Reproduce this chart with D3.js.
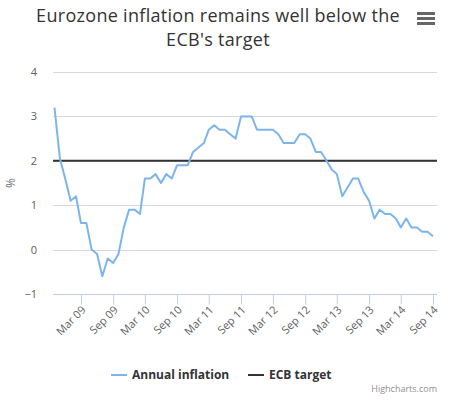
<!DOCTYPE html>
<html>
<head>
<meta charset="utf-8">
<script src="https://cdn.jsdelivr.net/npm/d3@7"></script>
<style>
  body { margin: 0; background: #fff; }
  text { font-family: "Open Sans", "DejaVu Sans", sans-serif; }
</style>
</head>
<body>
<svg id="chart" width="462" height="411"></svg>
<script>
// monthly HICP annual inflation, first value is Oct 2008
const startMonth = "Oct 2008";
const inflation = [3.2, 2.05, 1.6, 1.1, 1.2, 0.6, 0.6, 0.0, -0.1, -0.6, -0.2, -0.3,
  -0.1, 0.5, 0.9, 0.9, 0.8, 1.6, 1.6, 1.7, 1.5, 1.7, 1.6, 1.9,
  1.9, 1.9, 2.2, 2.3, 2.4, 2.7, 2.8, 2.7, 2.7, 2.6, 2.5, 3.0,
  3.0, 3.0, 2.7, 2.7, 2.7, 2.7, 2.6, 2.4, 2.4, 2.4, 2.6, 2.6,
  2.5, 2.2, 2.2, 2.0, 1.8, 1.7, 1.2, 1.4, 1.6, 1.6, 1.3, 1.1,
  0.7, 0.9, 0.8, 0.8, 0.7, 0.5, 0.7, 0.5, 0.5, 0.4, 0.4, 0.3];
const ecbTarget = 2;
const xTickLabels = ["Mar 09", "Sep 09", "Mar 10", "Sep 10", "Mar 11", "Sep 11",
  "Mar 12", "Sep 12", "Mar 13", "Sep 13", "Mar 14", "Sep 14"];
const yTicks = [-1, 0, 1, 2, 3, 4];
const seriesNames = ["Annual inflation", "ECB target"];
const colors = ["#7cb5ec", "#333333"];

const svg = d3.select("#chart");
const plotLeft = 53, plotRight = 437, plotTop = 72, plotBottom = 294;

const start = d3.timeParse("%b %Y")(startMonth);
const points = inflation.map((v, i) => ({ date: d3.timeMonth.offset(start, i), value: v }));
const tickDates = xTickLabels.map(d3.timeParse("%b %y"));

const x = d3.scaleTime()
    .domain([start, points[points.length - 1].date])
    .range([54.5, 433]);
const y = d3.scaleLinear()
    .domain([-1, 4])
    .range([plotBottom, plotTop]);

// grid lines
svg.append("g")
  .selectAll("line")
  .data(yTicks.filter(d => d > -1))
  .enter().append("line")
    .attr("x1", plotLeft).attr("x2", plotRight)
    .attr("y1", d => Math.round(y(d)) + 0.5).attr("y2", d => Math.round(y(d)) + 0.5)
    .attr("stroke", "#d8d8d8");

// y labels
svg.append("g")
  .selectAll("text")
  .data(yTicks)
  .enter().append("text")
    .attr("x", 37).attr("y", d => y(d) + 4)
    .attr("text-anchor", "end")
    .attr("font-size", 11).attr("fill", "#606060")
    .text(d => d < 0 ? "\u22121" : d);

svg.append("text")
  .attr("transform", "translate(15," + (plotTop + plotBottom) / 2 + ") rotate(-90)")
  .attr("text-anchor", "middle")
  .attr("font-size", 12).attr("fill", "#707070")
  .text("%");

// x axis
const xAxis = d3.axisBottom(x)
    .tickValues(tickDates)
    .tickSize(10)
    .tickFormat((d, i) => xTickLabels[i]);

const gx = svg.append("g")
    .attr("transform", "translate(0," + (plotBottom + 0.5) + ")")
    .call(xAxis);
gx.select(".domain").attr("d", "M" + plotLeft + ",0H" + plotRight).attr("stroke", "#c0d0e0");
gx.selectAll(".tick line").attr("stroke", "#c0d0e0");
gx.selectAll(".tick text")
    .attr("font-family", "\"Open Sans\", sans-serif")
    .attr("font-size", 11).attr("fill", "#606060")
    .attr("text-anchor", "end")
    .attr("x", 0).attr("y", 0).attr("dy", 0)
    .attr("transform", "translate(5,16) rotate(-45)");

// ECB target
svg.append("line")
  .attr("x1", plotLeft).attr("x2", plotRight)
  .attr("y1", y(ecbTarget)).attr("y2", y(ecbTarget))
  .attr("stroke", colors[1]).attr("stroke-width", 2);

// inflation line
const line = d3.line().x(d => x(d.date)).y(d => y(d.value));
svg.append("path")
  .datum(points)
  .attr("d", line)
  .attr("fill", "none")
  .attr("stroke", colors[0])
  .attr("stroke-width", 2)
  .attr("stroke-linejoin", "round");

// title, two separate lines
svg.append("g")
  .selectAll("text")
  .data(["Eurozone inflation remains well below the", "ECB's target"])
  .enter().append("text")
    .attr("x", 218).attr("y", (d, i) => 21.5 + i * 24.5)
    .attr("text-anchor", "middle")
    .attr("font-size", 18).attr("letter-spacing", 0.3)
    .attr("fill", "#333333")
    .text(d => d);

// menu button
svg.append("g")
  .selectAll("rect")
  .data([0, 1, 2])
  .enter().append("rect")
    .attr("x", 417).attr("y", d => 12 + d * 5)
    .attr("width", 18).attr("height", 3)
    .attr("fill", "#666666");

// legend
const legend = svg.append("g")
  .selectAll("g")
  .data(seriesNames)
  .enter().append("g")
    .attr("transform", (d, i) => "translate(" + [111, 248][i] + ",375)");
legend.append("line")
  .attr("x1", 0).attr("x2", 16)
  .attr("stroke", (d, i) => colors[i]).attr("stroke-width", 2);
legend.append("text")
  .attr("x", 21).attr("y", 4)
  .attr("font-size", 12).attr("font-weight", "bold").attr("fill", "#333333")
  .text(d => d);

svg.append("text")
  .attr("x", 437).attr("y", 392)
  .attr("text-anchor", "end")
  .attr("font-size", 9).attr("fill", "#909090")
  .text("Highcharts.com");
</script>
</body>
</html>
